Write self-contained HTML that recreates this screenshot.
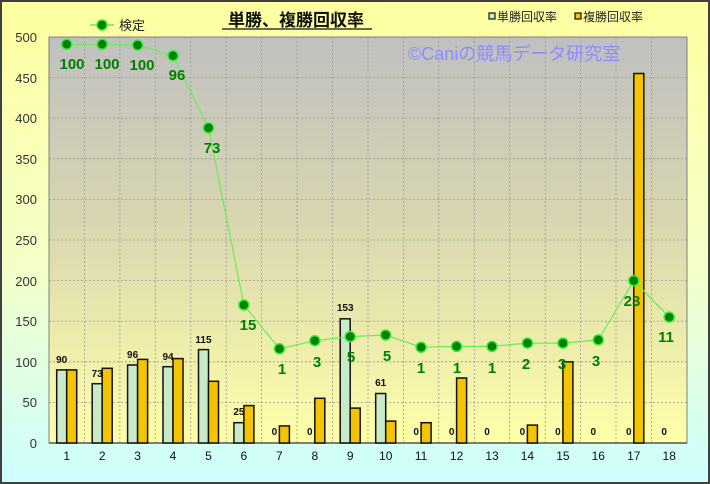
<!DOCTYPE html>
<html><head><meta charset="utf-8"><style>
html,body{margin:0;padding:0;width:710px;height:484px;overflow:hidden}
svg{display:block}
text{font-family:"Liberation Sans","Noto Sans CJK JP",sans-serif}
</style></head><body>
<svg width="710" height="484" viewBox="0 0 710 484" xmlns="http://www.w3.org/2000/svg">
<defs>
<linearGradient id="bg" x1="0" y1="0" x2="0" y2="1"><stop offset="0" stop-color="#ffffa0"/><stop offset="0.55" stop-color="#f4ffc8"/><stop offset="1" stop-color="#ccffff"/></linearGradient>
<linearGradient id="pl" x1="0" y1="0" x2="0" y2="1"><stop offset="0" stop-color="#c0c0c0"/><stop offset="0.45" stop-color="#d8d6b0"/><stop offset="1" stop-color="#ffffa8"/></linearGradient>
</defs>
<rect x="0" y="0" width="710" height="484" fill="url(#bg)"/>
<rect x="1" y="1" width="708" height="482" fill="none" stroke="#404040" stroke-width="2"/>
<rect x="49" y="37" width="638" height="406" fill="url(#pl)" stroke="#808080" stroke-width="1"/>
<g stroke="#999" stroke-width="0.8" stroke-dasharray="2,2" fill="none">
<path d="M49 77.6H687M49 118.2H687M49 158.8H687M49 199.4H687M49 240H687M49 280.6H687M49 321.2H687M49 361.8H687M49 402.4H687"/>
<path d="M84.4 37V443M119.9 37V443M155.3 37V443M190.8 37V443M226.2 37V443M261.6 37V443M297.1 37V443M332.5 37V443M368 37V443M403.4 37V443M438.8 37V443M474.3 37V443M509.7 37V443M545.2 37V443M580.6 37V443M616 37V443M651.5 37V443"/>
</g>
<text x="408" y="60" font-size="18" fill="#8c8cff">©Caniの競馬データ研究室</text>
<line x1="49" y1="443" x2="687" y2="443" stroke="#555" stroke-width="1.5"/>
<g font-size="13" fill="#333" text-anchor="end">
<text x="37" y="42">500</text><text x="37" y="83">450</text><text x="37" y="123">400</text><text x="37" y="164">350</text><text x="37" y="204">300</text><text x="37" y="245">250</text><text x="37" y="286">200</text><text x="37" y="326">150</text><text x="37" y="367">100</text><text x="37" y="407">50</text><text x="37" y="448">0</text>
</g>
<g font-size="12" fill="#111" text-anchor="middle">
<text x="66.7" y="460">1</text><text x="102.2" y="460">2</text><text x="137.6" y="460">3</text><text x="173" y="460">4</text><text x="208.5" y="460">5</text><text x="243.9" y="460">6</text><text x="279.4" y="460">7</text><text x="314.8" y="460">8</text><text x="350.2" y="460">9</text><text x="385.7" y="460">10</text><text x="421.1" y="460">11</text><text x="456.6" y="460">12</text><text x="492" y="460">13</text><text x="527.4" y="460">14</text><text x="562.9" y="460">15</text><text x="598.3" y="460">16</text><text x="633.8" y="460">17</text><text x="669.2" y="460">18</text>
</g>
<g fill="#c8eac8" stroke="#111" stroke-width="1.5">
<rect x="56.7" y="369.9" width="10" height="73.1"/><rect x="92.2" y="383.7" width="10" height="59.3"/><rect x="127.6" y="365" width="10" height="78"/><rect x="163" y="366.7" width="10" height="76.3"/><rect x="198.5" y="349.6" width="10" height="93.4"/><rect x="233.9" y="422.7" width="10" height="20.3"/><rect x="340.2" y="318.8" width="10" height="124.2"/><rect x="375.7" y="393.5" width="10" height="49.5"/>
</g>
<g fill="#f5c400" stroke="#111" stroke-width="1.5">
<rect x="66.7" y="369.9" width="10" height="73.1"/><rect x="102.2" y="368.3" width="10" height="74.7"/><rect x="137.6" y="359.4" width="10" height="83.6"/><rect x="173" y="358.6" width="10" height="84.4"/><rect x="208.5" y="381.3" width="10" height="61.7"/><rect x="243.9" y="405.6" width="10" height="37.4"/><rect x="279.4" y="425.9" width="10" height="17.1"/><rect x="314.8" y="398.3" width="10" height="44.7"/><rect x="350.2" y="408.1" width="10" height="34.9"/><rect x="385.7" y="421.1" width="10" height="21.9"/><rect x="421.1" y="422.7" width="10" height="20.3"/><rect x="456.6" y="378" width="10" height="65"/><rect x="527.4" y="425.1" width="10" height="17.9"/><rect x="562.9" y="361.8" width="10" height="81.2"/><rect x="633.8" y="73.5" width="10" height="369.5"/>
</g>
<g font-size="10" font-weight="bold" fill="#111" text-anchor="middle">
<text x="61.7" y="363">90</text><text x="97.2" y="377">73</text><text x="132.6" y="358">96</text><text x="168" y="360">94</text><text x="203.5" y="343">115</text><text x="238.9" y="415">25</text><text x="274.4" y="435">0</text><text x="309.8" y="435">0</text><text x="345.2" y="311">153</text><text x="380.7" y="386">61</text><text x="416.1" y="435">0</text><text x="451.6" y="435">0</text><text x="487" y="435">0</text><text x="522.4" y="435">0</text><text x="557.9" y="435">0</text><text x="593.3" y="435">0</text><text x="628.8" y="435">0</text><text x="664.2" y="435">0</text>
</g>
<polyline fill="none" stroke="#66ee55" stroke-width="1.2" points="66.7,44.3 102.2,44.3 137.6,45.1 173,55.7 208.5,127.9 243.9,305 279.4,348.8 314.8,340.7 350.2,336.6 385.7,335 421.1,347.2 456.6,346.4 492,346.4 527.4,343.1 562.9,343.1 598.3,339.9 633.8,280.6 669.2,317.1"/>
<g fill="#008000" stroke="#33ee33" stroke-width="1.5">
<circle cx="66.7" cy="44.3" r="5"/><circle cx="102.2" cy="44.3" r="5"/><circle cx="137.6" cy="45.1" r="5"/><circle cx="173" cy="55.7" r="5"/><circle cx="208.5" cy="127.9" r="5"/><circle cx="243.9" cy="305" r="5"/><circle cx="279.4" cy="348.8" r="5"/><circle cx="314.8" cy="340.7" r="5"/><circle cx="350.2" cy="336.6" r="5"/><circle cx="385.7" cy="335" r="5"/><circle cx="421.1" cy="347.2" r="5"/><circle cx="456.6" cy="346.4" r="5"/><circle cx="492" cy="346.4" r="5"/><circle cx="527.4" cy="343.1" r="5"/><circle cx="562.9" cy="343.1" r="5"/><circle cx="598.3" cy="339.9" r="5"/><circle cx="633.8" cy="280.6" r="5"/><circle cx="669.2" cy="317.1" r="5"/>
</g>
<g font-size="15" font-weight="bold" fill="#008000" text-anchor="middle">
<text x="72" y="69">100</text><text x="107" y="69">100</text><text x="142" y="70">100</text><text x="177" y="80">96</text><text x="212" y="153">73</text><text x="248" y="330">15</text><text x="282" y="374">1</text><text x="317" y="367">3</text><text x="351" y="362">5</text><text x="387" y="361">5</text><text x="421" y="373">1</text><text x="457" y="373">1</text><text x="492" y="373">1</text><text x="526" y="369">2</text><text x="562" y="369">3</text><text x="596" y="366">3</text><text x="632" y="306">23</text><text x="666" y="342">11</text>
</g>
<text x="296" y="26" font-size="17" font-weight="bold" fill="#111" text-anchor="middle">単勝、複勝回収率</text>
<line x1="222" y1="29" x2="372" y2="29" stroke="#111" stroke-width="1.2"/>
<line x1="90" y1="25" x2="114" y2="25" stroke="#66ee55" stroke-width="1.5"/>
<circle cx="102" cy="25" r="5" fill="#008000" stroke="#33ee33" stroke-width="1.5"/>
<text x="119" y="30" font-size="13" fill="#222">検定</text>
<rect x="489" y="13" width="6" height="6" fill="#c8eac8" stroke="#111" stroke-width="1.2"/>
<text x="497" y="21" font-size="12" fill="#222">単勝回収率</text>
<rect x="575" y="13" width="6" height="6" fill="#f5c400" stroke="#111" stroke-width="1.2"/>
<text x="583" y="21" font-size="12" fill="#222">複勝回収率</text>
</svg>
</body></html>
